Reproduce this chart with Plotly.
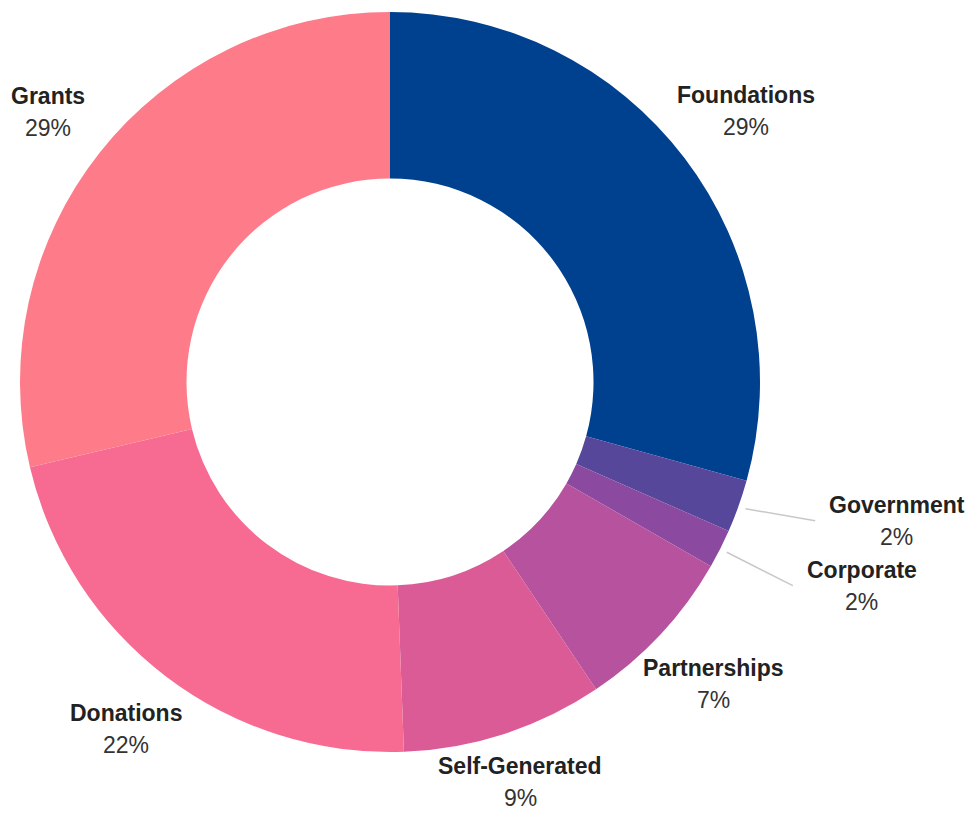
import math
import plotly.graph_objects as go

# ---- data ----
categories = ["Foundations", "Government", "Corporate", "Partnerships",
              "Self-Generated", "Donations", "Grants"]
values = [29.3, 2.3, 1.7, 7.3, 8.8, 21.9, 28.7]
colors = ["#00418f", "#56479b", "#8b4aa0", "#b7529f", "#db5b96", "#f76b93", "#fe7b8a"]
# labels that are pushed out with a leader line
leader_labels = ["Government", "Corporate"]
# label distance from centre in px (default below)
label_dist = {"Foundations": 447, "Partnerships": 443, "Self-Generated": 421}

# figure (page has an 8px body margin)
W, H = 965, 808
R = 370.0            # outer radius in px
CX, CY = 382, 374    # centre in figure px (from top-left)
FS = 23              # font size
LINE = 16            # half line spacing
MIN_GAP = 65         # min vertical gap between leader labels

# Arial/Liberation Sans Bold advance widths (per 1000 em) for width estimate
BOLD_W = {"G": 778, "o": 611, "v": 556, "e": 556, "r": 389, "n": 611, "m": 889,
          "t": 333, "C": 722, "p": 611, "a": 556}


def text_w(s):
    return sum(BOLD_W.get(c, 600) for c in s) / 1000.0 * FS


total = sum(values)
pcts = [round(v / total * 100) for v in values]

fig = go.Figure()
fig.add_trace(go.Pie(
    labels=categories, values=values, sort=False, direction="clockwise",
    rotation=0, hole=0.55, textinfo="none",
    marker=dict(colors=colors, line=dict(width=0)),
    domain=dict(x=[(CX - R) / W, (CX + R) / W],
                y=[(H - CY - R) / H, (H - CY + R) / H]),
    showlegend=False, hovertemplate="%{label}: %{percent}<extra></extra>",
))

annotations = []


def add_label(xc, yc, name, pct):
    annotations.append(dict(x=xc, y=yc + LINE, xref="x", yref="y",
                            text=f"<b>{name}</b>", showarrow=False,
                            xanchor="center", yanchor="middle",
                            font=dict(color="#222")))
    annotations.append(dict(x=xc, y=yc - LINE, xref="x", yref="y",
                            text=f"{pct}%", showarrow=False,
                            xanchor="center", yanchor="middle",
                            font=dict(color="#333")))


cum = 0.0
leaders = []
for cat, v, p in zip(categories, values, pcts):
    mid = (cum + v / 2) / total * 2 * math.pi
    cum += v
    sx, sy = math.sin(mid), math.cos(mid)
    if cat in leader_labels:
        leaders.append([cat, p, sx, sy])
    else:
        rl = label_dist.get(cat, 436)
        add_label(rl * sx, rl * sy, cat, p)

# leader-line labels: radial end points, pushed apart vertically
r0, r1 = R * 1.02, R * 1.22
ends = [[r1 * sx, r1 * sy] for _, _, sx, sy in leaders]
for i in range(len(ends) - 2, -1, -1):
    if ends[i][1] - ends[i + 1][1] < MIN_GAP:
        ends[i][1] = ends[i + 1][1] + MIN_GAP
for (cat, p, sx, sy), (ex, ey) in zip(leaders, ends):
    fig.add_trace(go.Scatter(x=[r0 * sx, ex], y=[r0 * sy, ey], mode="lines",
                             line=dict(color="#c8c8c8", width=1.5),
                             hoverinfo="skip", showlegend=False))
    add_label(ex + 14 + text_w(cat) / 2, ey, cat, p)

fig.update_layout(
    width=W, height=H,
    margin=dict(l=0, r=0, t=0, b=0),
    paper_bgcolor="white", plot_bgcolor="rgba(0,0,0,0)",
    font=dict(family="Liberation Sans, Arial, sans-serif", size=FS, color="#222"),
    xaxis=dict(range=[-CX, W - CX], visible=False, fixedrange=True),
    yaxis=dict(range=[-(H - CY), CY], visible=False, fixedrange=True),
    annotations=annotations,
)

fig.write_html("out.html")
